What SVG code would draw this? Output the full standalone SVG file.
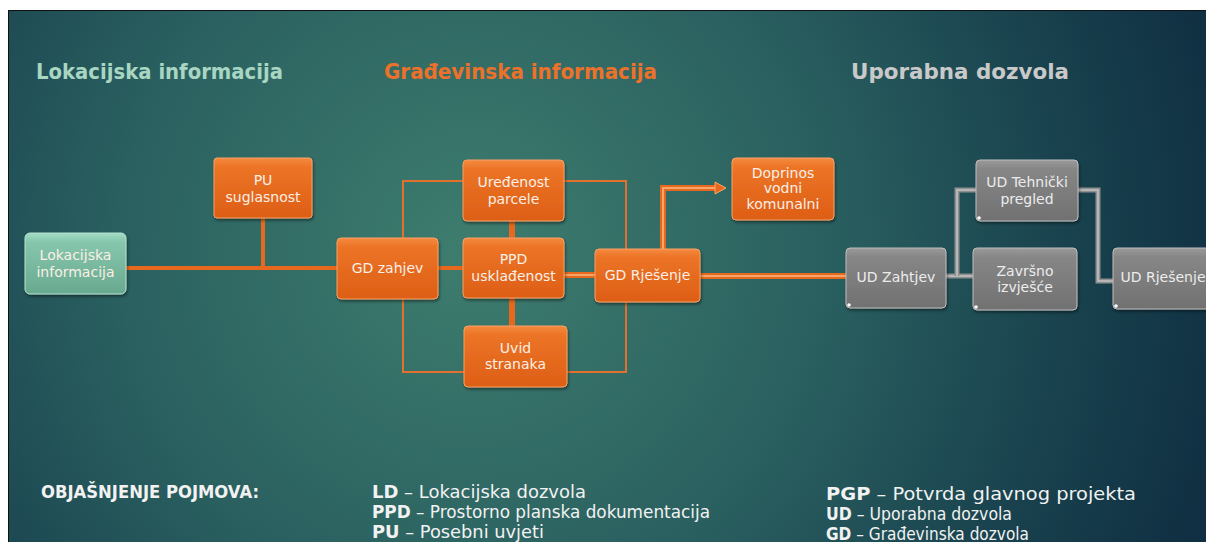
<svg xmlns="http://www.w3.org/2000/svg" width="1206" height="542" viewBox="0 0 1206 542">
<defs>
<radialGradient id="bg" gradientUnits="userSpaceOnUse" cx="470" cy="250" r="780">
<stop offset="0" stop-color="#3e7d6e"/>
<stop offset="0.45" stop-color="#2a6060"/>
<stop offset="0.8" stop-color="#173f4c"/>
<stop offset="1" stop-color="#102f42"/>
</radialGradient>
<linearGradient id="gOr" x1="0" y1="0" x2="0" y2="1">
<stop offset="0" stop-color="#f58a40"/>
<stop offset="0.15" stop-color="#ec7426"/>
<stop offset="1" stop-color="#dd5e16"/>
</linearGradient>
<linearGradient id="gGr" x1="0" y1="0" x2="0" y2="1">
<stop offset="0" stop-color="#9a9a9a"/>
<stop offset="0.15" stop-color="#868686"/>
<stop offset="1" stop-color="#717171"/>
</linearGradient>
<linearGradient id="gGn" x1="0" y1="0" x2="0" y2="1">
<stop offset="0" stop-color="#a3dcc5"/>
<stop offset="0.15" stop-color="#86c6ac"/>
<stop offset="1" stop-color="#68a98f"/>
</linearGradient>
<filter id="sh" x="-10%" y="-10%" width="130%" height="140%">
<feDropShadow dx="1" dy="2" stdDeviation="1.5" flood-color="#000" flood-opacity="0.45"/>
</filter>
</defs>
<style>
.or{fill:url(#gOr);stroke:#f6a266;stroke-width:1;filter:url(#sh)}
.gr{fill:url(#gGr);stroke:#bdbdbd;stroke-width:1;filter:url(#sh)}
.gn{fill:url(#gGn);stroke:#b3e2cf;stroke-width:1;filter:url(#sh)}
.nt{font-family:"DejaVu Sans","Liberation Sans",sans-serif;font-size:14px;text-anchor:middle;fill:#fbefe6}
.gt{font-family:"DejaVu Sans","Liberation Sans",sans-serif;font-size:14px;text-anchor:middle;fill:#ececec}
.dot{fill:#ffffff}
.title{font-family:"DejaVu Sans","Liberation Sans",sans-serif;font-size:21px;font-weight:bold}
.leg{font-family:"DejaVu Sans","Liberation Sans",sans-serif;font-size:17px;fill:#f2f2f2}
.b{font-weight:bold}
.thin{fill:none;stroke:#e2702e;stroke-width:2}
.thick{fill:none;stroke:#e8691e;stroke-width:4}
.thick6{fill:none;stroke:#e8691e;stroke-width:6}
.dblo{fill:none;stroke:#e8691e;stroke-width:6}
.dbli{fill:none;stroke:#f7a66b;stroke-width:2}
.gro{fill:none;stroke:#8f8f8f;stroke-width:5}
.gri{fill:none;stroke:#c4c4c4;stroke-width:1.5}
</style>
<rect x="0" y="0" width="1206" height="542" fill="#ffffff"/>
<rect x="8.5" y="10.5" width="1200" height="540" fill="url(#bg)" stroke="#111111" stroke-width="1"/>

<g id="titles">
<text class="title" x="36" y="79" fill="#a8d6c2" textLength="247" lengthAdjust="spacingAndGlyphs">Lokacijska informacija</text>
<text class="title" x="384" y="79" fill="#ec712a" textLength="273" lengthAdjust="spacingAndGlyphs">Građevinska informacija</text>
<text class="title" x="851" y="79" fill="#c9c9c9" textLength="218" lengthAdjust="spacingAndGlyphs">Uporabna dozvola</text>
</g>

<g id="connectors">
<path class="thin" d="M463,181 H403 V238"/>
<path class="thin" d="M403,299 V372 H464"/>
<path class="thin" d="M564,181 H626 V249"/>
<path class="thin" d="M626,302 V372 H567"/>
<path class="thick" d="M126,268 H337"/>
<path class="thick" d="M263,218 V268"/>
<path class="thick" d="M438,268 H463"/>
<path class="thick6" d="M512,221 V238"/>
<path class="thick6" d="M512,298 V326"/>
<path class="dblo" d="M564,275 H595"/>
<path class="dbli" d="M564,275 H595"/>
<path class="dblo" d="M700,276 H846"/>
<path class="dbli" d="M700,276 H846"/>
<path class="dblo" d="M663,249 V188 H718"/>
<path class="dbli" d="M663,249 V188 H718"/>
<path d="M715,182 L726,188 L715,194 Z" fill="#e8691e" stroke="#f7a66b" stroke-width="1"/>
<path class="gro" d="M946,276 H973"/>
<path class="gri" d="M946,276 H973"/>
<path class="gro" d="M957,276 V190 H976"/>
<path class="gri" d="M957,276 V190 H976"/>
<path class="gro" d="M1078,190 H1098 V281 H1113"/>
<path class="gri" d="M1078,190 H1098 V281 H1113"/>
</g>

<g id="n-lokacijska">
<rect class="gn" x="25" y="233" width="101" height="61" rx="5"/>
<text class="nt" x="75.5" y="260">Lokacijska</text>
<text class="nt" x="75.5" y="277">informacija</text>
</g>
<g id="n-pu">
<rect class="or" x="214" y="158" width="98" height="60" rx="3"/>
<text class="nt" x="263" y="185">PU</text>
<text class="nt" x="263" y="202">suglasnost</text>
</g>
<g id="n-gdzahjev">
<rect class="or" x="337" y="238" width="101" height="61" rx="4"/>
<text class="nt" x="387.5" y="273">GD zahjev</text>
</g>
<g id="n-uredenost">
<rect class="or" x="463" y="160" width="101" height="61" rx="4"/>
<text class="nt" x="513.5" y="187">Uređenost</text>
<text class="nt" x="513.5" y="204">parcele</text>
</g>
<g id="n-ppd">
<rect class="or" x="463" y="238" width="101" height="60" rx="4"/>
<text class="nt" x="513.5" y="264">PPD</text>
<text class="nt" x="513.5" y="281">usklađenost</text>
</g>
<g id="n-uvid">
<rect class="or" x="464" y="326" width="103" height="61" rx="4"/>
<text class="nt" x="515.5" y="353">Uvid</text>
<text class="nt" x="515.5" y="369">stranaka</text>
</g>
<g id="n-gdrjesenje">
<rect class="or" x="595" y="249" width="105" height="53" rx="4"/>
<text class="nt" x="647.5" y="280">GD Rješenje</text>
</g>
<g id="n-doprinos">
<rect class="or" x="732" y="158" width="102" height="62" rx="4"/>
<text class="nt" x="783" y="178">Doprinos</text>
<text class="nt" x="783" y="193">vodni</text>
<text class="nt" x="783" y="209">komunalni</text>
</g>
<g id="n-udzahtjev">
<rect class="gr" x="846" y="248" width="100" height="60" rx="4"/>
<circle class="dot" cx="849" cy="305" r="1.8"/>
<text class="gt" x="896" y="282">UD Zahtjev</text>
</g>
<g id="n-udtehnicki">
<rect class="gr" x="976" y="160" width="102" height="61" rx="4"/>
<circle class="dot" cx="979" cy="218" r="1.8"/>
<text class="gt" x="1027" y="187">UD Tehnički</text>
<text class="gt" x="1027" y="204">pregled</text>
</g>
<g id="n-zavrsno">
<rect class="gr" x="973" y="248" width="104" height="62" rx="4"/>
<circle class="dot" cx="976" cy="307" r="1.8"/>
<text class="gt" x="1025" y="276">Završno</text>
<text class="gt" x="1025" y="292">izvješće</text>
</g>
<g id="n-udrjesenje">
<rect class="gr" x="1113" y="248" width="100" height="61" rx="4"/>
<circle class="dot" cx="1116" cy="306" r="1.8"/>
<text class="gt" x="1163" y="282">UD Rješenje</text>
</g>

<g id="legend">
<text class="leg b" x="41" y="498" font-size="16" textLength="218" lengthAdjust="spacingAndGlyphs">OBJAŠNJENJE POJMOVA:</text>
<text class="leg" x="372" y="498" textLength="214" lengthAdjust="spacingAndGlyphs"><tspan class="b">LD</tspan> – Lokacijska dozvola</text>
<text class="leg" x="372" y="518" textLength="338" lengthAdjust="spacingAndGlyphs"><tspan class="b">PPD</tspan> – Prostorno planska dokumentacija</text>
<text class="leg" x="372" y="538" textLength="172" lengthAdjust="spacingAndGlyphs"><tspan class="b">PU</tspan> – Posebni uvjeti</text>
<text class="leg" x="826" y="500" textLength="310" lengthAdjust="spacingAndGlyphs"><tspan class="b">PGP</tspan> – Potvrda glavnog projekta</text>
<text class="leg" x="826" y="520" textLength="186" lengthAdjust="spacingAndGlyphs"><tspan class="b">UD</tspan> – Uporabna dozvola</text>
<text class="leg" x="826" y="540" textLength="203" lengthAdjust="spacingAndGlyphs"><tspan class="b">GD</tspan> – Građevinska dozvola</text>
</g>
</svg>
